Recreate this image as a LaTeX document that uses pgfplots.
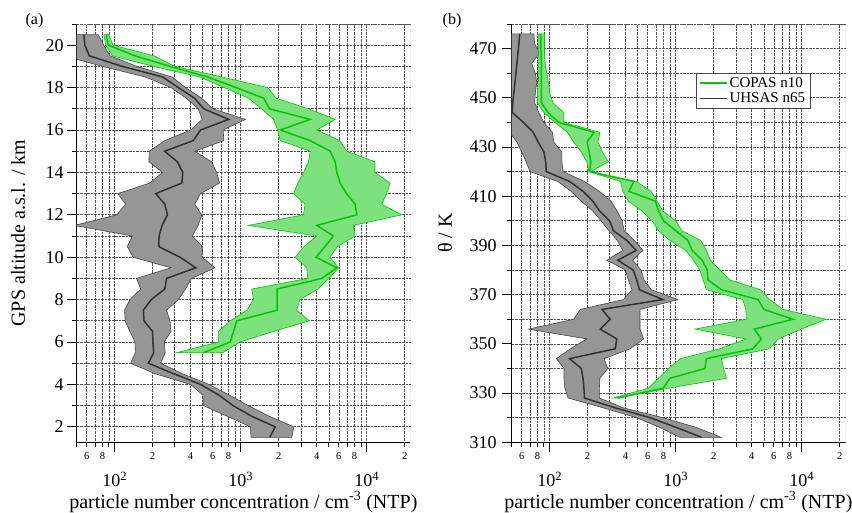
\documentclass[border=0pt]{standalone}
\usepackage{fontspec}
\setmainfont{Liberation Serif}
\usepackage{pgfplots}
\usepackage{pgfplotstable}
\pgfplotsset{compat=1.18}

\definecolor{copasfill}{RGB}{125,225,125}
\definecolor{copasline}{RGB}{0,200,0}
\definecolor{uhsasfill}{RGB}{150,150,150}
\definecolor{uhsasedge}{RGB}{70,70,70}
\definecolor{uhsasline}{RGB}{50,50,50}
\definecolor{gridcol}{RGB}{85,85,85}

% (a) altitude profiles: medians
\pgfplotstableread{
alt uhsas
20.5 57
20.0 58
19.5 63
19.0 115
18.5 240
18.0 320
17.5 430
17.0 510
16.5 800
16.0 480
15.5 420
15.0 249
14.5 315
14.0 347
13.5 342
13.0 212
12.5 250
12.0 262
11.5 238
11.0 225
10.5 224
10.0 330
9.5 440
9.0 258
8.5 250
8.0 195
7.5 169
7.0 171
6.5 200
6.0 201
5.5 204
5.0 185
4.5 295
4.0 480
3.5 670
3.0 870
2.5 1220
2.0 1875
1.5 1700
}\uhsasaltmed

\pgfplotstableread{
alt copas
20.5 86
20.0 89
19.5 145
19.0 275
18.5 545
18.0 920
17.5 1520
17.0 1690
16.5 3556
16.0 2057
15.5 3556
15.0 5120
14.5 5610
14.0 5780
13.5 6140
13.0 6900
12.5 8080
12.0 8330
11.5 4008
11.0 5430
10.5 4650
10.0 3950
9.5 5780
9.0 4400
8.5 1940
8.0 1940
7.5 1940
7.0 931
6.5 877
6.0 826
5.5 507
}\copasaltmed

% (a) variability bands: lower bound downwards, then upper bound upwards
\pgfplotstableread{
alt n
20.5 40
20.0 40
19.5 40
19.0 80
18.5 175
18.0 280
17.5 370
17.0 460
16.5 495
16.0 400
15.5 250
15.0 188
14.5 187
14.0 240
13.5 190
13.0 106
12.5 122
12.0 104
11.5 48
11.0 138
10.5 126
10.0 140
9.5 280
9.0 149
8.5 161
8.0 132
7.5 120
7.0 121
6.5 132
6.0 145
5.5 146
5.0 134
4.5 210
4.0 400
3.5 500
3.0 505
2.5 780
2.0 1195
1.5 1205
1.5 2545
2.0 2630
2.5 1680
3.0 1150
3.5 810
4.0 560
4.5 345
5.0 232
5.5 252
6.0 247
6.5 280
7.0 275
7.5 258
8.0 320
8.5 365
9.0 407
9.5 625
10.0 493
10.5 500
11.0 413
11.5 460
12.0 490
12.5 432
13.0 480
13.5 680
14.0 643
14.5 587
15.0 432
15.5 735
16.0 725
16.5 1090
17.0 600
17.5 490
18.0 365
18.5 285
19.0 150
19.5 92
20.0 82
20.5 74
20.5 40
}\uhsasaltband

\pgfplotstableread{
alt n
20.5 82
20.0 85
19.5 96
19.0 203
18.5 477
18.0 740
17.5 1154
17.0 1462
16.5 1820
16.0 1960
15.5 2057
15.0 3556
14.5 3450
14.0 3150
13.5 2840
13.0 2620
12.5 3240
12.0 3140
11.5 1150
11.0 4010
10.5 3170
10.0 2700
9.5 3340
9.0 3400
8.5 1225
8.0 1260
7.5 1120
7.0 826
6.5 667
6.0 667
5.5 312
5.5 720
6.0 988
6.5 1820
7.0 3490
7.5 2780
8.0 2950
8.5 4100
9.0 5000
9.5 5970
10.0 5100
10.5 5850
11.0 8080
11.5 7830
12.0 18900
12.5 13100
13.0 14400
13.5 15300
14.0 11600
14.5 11600
15.0 6920
15.5 6100
16.0 4008
16.5 5610
17.0 3445
17.5 1910
18.0 1640
18.5 708
19.0 300
19.5 205
20.0 97
20.5 90
20.5 82
}\copasaltband

% (b) potential temperature profiles: medians
\pgfplotstableread{
th uhsas
476 58
472 57
468 56
464 55
460 54
456 53
452 52
448 51
444 50.5
440 62
436 74
432 81
428 90
424 93
420 94
416 144
412 184
408 220
404 249
400 299
396 320
392 410
388 485
384 347
380 460
376 490
372 515
368 790
364 260
360 302
356 252
352 341
348 331
344 144
340 178
336 184
332 187
328 189
324 331
320 625
316 1015
312 1603
}\uhsasthmed

\pgfplotstableread{
th copas
476 85
472 85
468 85.5
464 86
460 86
456 86
452 86
448 86
444 97
440 118
436 225
432 198
428 206
424 212
420 208
416 465
412 425
408 690
404 730
400 800
396 1000
392 1250
388 1350
384 1620
380 1780
376 1800
372 2300
368 4500
364 5000
360 8490
356 4200
352 4770
348 4100
344 1752
340 1702
336 899
332 796
328 345
}\copasthmed

% (b) variability bands
\pgfplotstableread{
th n
476 40
472 40
468 40
464 40
460 40
456 40
452 40
448 40
444 40
440 40
436 48
432 55
428 60
424 65
420 70
416 116
412 148
408 178
404 220
400 256
396 295
392 345
388 380
384 284
380 400
376 420
372 450
368 385
364 175
360 155
356 68
352 197
348 146
344 113
340 130
336 130
332 132
328 140
324 267
320 490
316 750
312 1080
312 2300
316 1463
320 795
324 385
328 248
332 248
336 250
340 289
344 270
348 435
352 555
356 521
360 521
364 521
368 1040
372 640
376 560
380 530
384 456
388 550
392 470
396 390
400 376
404 343
408 307
412 248
416 189
420 128
424 125
428 125
432 108
436 105
440 90
444 82
448 76
452 77
456 79
460 77
464 72
468 83
472 76
476 75
476 40
}\uhsasthband

\pgfplotstableread{
th n
476 82
472 82
468 82
464 82
460 82
456 81
452 80
448 80
444 90
440 110
436 138
432 155
428 178
424 197
420 205
416 365
412 380
408 420
404 540
400 650
396 730
392 900
388 1200
384 1380
380 1550
376 1650
372 1750
368 3400
364 3600
360 3630
356 1420
352 3630
348 2235
344 1090
340 874
336 728
332 607
328 320
328 350
332 880
336 2523
340 2400
344 2300
348 5560
352 6500
356 9900
360 15580
364 7100
368 5560
372 4700
376 2680
380 2250
384 1880
388 1750
392 1580
396 1120
400 1000
404 790
408 710
412 640
416 485
420 212
424 292
428 262
432 242
436 250
440 130
444 129
448 106
452 100
456 98
460 95
464 92
468 91
472 91
476 91
476 82
}\copasthband

\begin{document}
\begin{tikzpicture}
\useasboundingbox (0pt,0pt) rectangle (852pt,513pt);

\begin{axis}[at={(76.7pt,70.7pt)}, anchor=south west,
  width=333.3pt, height=418.3pt, scale only axis,
  xmode=log, xmin=50, xmax=22000,
  ymin=1.27, ymax=21,
  axis x line*=bottom, axis y line*=left,
  axis line style={line width=0.8pt, black},
  tick align=outside,
  tick style={line width=0.8pt, black},
  major tick length=9.5pt, minor tick length=4.5pt,
  xtick={100,1000,10000},
  xticklabels={10\textsuperscript{2},10\textsuperscript{3},10\textsuperscript{4}},
  xticklabel style={font=\fontsize{18}{18}\selectfont, yshift=-17pt},
  extra x ticks={60,80,200,400,600,800,2000,4000,6000,8000,20000},
  extra x tick labels={6,8,2,4,6,8,2,4,6,8,2},
  extra x tick style={tick style={draw=none}, xticklabel style={font=\fontsize{10.5}{10.5}\selectfont, yshift=20pt}},
  minor xtick={50,60,70,80,90,200,300,400,500,600,700,800,900,2000,3000,4000,5000,6000,7000,8000,9000,20000},
  ytick={2,4,...,20}, minor ytick={3,5,...,21},
  yticklabel style={font=\fontsize{18}{18}\selectfont},
  /pgf/number format/assume math mode=true,
  grid=both,
  major grid style={densely dotted, gridcol, line width=0.7pt},
  minor grid style={densely dotted, gridcol, line width=0.7pt},
  xlabel={particle number concentration / cm\textsuperscript{-3} (NTP)},
  xlabel style={at={(axis description cs:0.5,-0.143)}, anchor=center, font=\fontsize{20}{20}\selectfont},
  ylabel={GPS altitude a.s.l. / km},
  ylabel style={at={(axis description cs:-0.176,0.5)}, anchor=center, font=\fontsize{20}{20}\selectfont},
]
\addplot[fill=uhsasfill, draw=uhsasedge, line width=0.6pt] table[x=n, y=alt] {\uhsasaltband};
\addplot[uhsasline, line width=1.5pt] table[x=uhsas, y=alt] {\uhsasaltmed};
\addplot[fill=copasfill, draw=copasline, line width=0.6pt] table[x=n, y=alt] {\copasaltband};
\addplot[copasline, line width=1.5pt] table[x=copas, y=alt] {\copasaltmed};
\draw[densely dotted, gridcol, line width=0.7pt] (rel axis cs:0,1) -- (rel axis cs:1,1) -- (rel axis cs:1,0);
\end{axis}

\begin{axis}[at={(511.7pt,70.7pt)}, anchor=south west,
  width=333.3pt, height=418.3pt, scale only axis,
  xmode=log, xmin=50, xmax=22000,
  ymin=310, ymax=480,
  axis x line*=bottom, axis y line*=left,
  axis line style={line width=0.8pt, black},
  tick align=outside,
  tick style={line width=0.8pt, black},
  major tick length=9.5pt, minor tick length=4.5pt,
  xtick={100,1000,10000},
  xticklabels={10\textsuperscript{2},10\textsuperscript{3},10\textsuperscript{4}},
  xticklabel style={font=\fontsize{18}{18}\selectfont, yshift=-17pt},
  extra x ticks={60,80,200,400,600,800,2000,4000,6000,8000,20000},
  extra x tick labels={6,8,2,4,6,8,2,4,6,8,2},
  extra x tick style={tick style={draw=none}, xticklabel style={font=\fontsize{10.5}{10.5}\selectfont, yshift=20pt}},
  minor xtick={50,60,70,80,90,200,300,400,500,600,700,800,900,2000,3000,4000,5000,6000,7000,8000,9000,20000},
  ytick={310,330,...,470}, minor ytick={320,340,...,480},
  yticklabel style={font=\fontsize{18}{18}\selectfont, xshift=-2pt},
  /pgf/number format/assume math mode=true,
  grid=both,
  major grid style={densely dotted, gridcol, line width=0.7pt},
  minor grid style={densely dotted, gridcol, line width=0.7pt},
  xlabel={particle number concentration / cm\textsuperscript{-3} (NTP)},
  xlabel style={at={(axis description cs:0.5,-0.143)}, anchor=center, font=\fontsize{20}{20}\selectfont},
  ylabel={θ / K},
  ylabel style={at={(axis description cs:-0.2,0.5)}, anchor=center, font=\fontsize{20}{20}\selectfont},
  legend style={at={(0.552,0.8836)}, anchor=north west, draw=uhsasedge,
    line width=0.8pt, font=\fontsize{15}{17}\selectfont,
    inner xsep=3pt, inner ysep=2pt},
  legend cell align=left,
  legend image code/.code={\draw[#1] (0pt,0pt) -- (27pt,0pt);},
]
\addplot[fill=uhsasfill, draw=uhsasedge, line width=0.6pt, forget plot] table[x=n, y=th] {\uhsasthband};
\addplot[uhsasline, line width=1.5pt, forget plot] table[x=uhsas, y=th] {\uhsasthmed};
\addplot[fill=copasfill, draw=copasline, line width=0.6pt, forget plot] table[x=n, y=th] {\copasthband};
\addplot[copasline, line width=1.5pt, forget plot] table[x=copas, y=th] {\copasthmed};
\addlegendimage{copasline, line width=1.5pt}
\addlegendentry{COPAS n10}
\addlegendimage{uhsasline, line width=1.5pt}
\addlegendentry{UHSAS n65}
\draw[densely dotted, gridcol, line width=0.7pt] (rel axis cs:0,1) -- (rel axis cs:1,1) -- (rel axis cs:1,0);
\end{axis}

\node[font=\fontsize{16}{16}\selectfont] at (34.5pt,492pt) {(a)};
\node[font=\fontsize{16}{16}\selectfont] at (452pt,492pt) {(b)};
\end{tikzpicture}
\end{document}
